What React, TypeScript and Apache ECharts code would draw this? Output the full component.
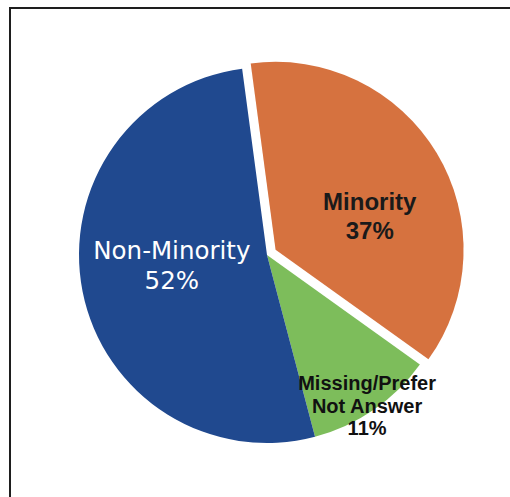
import React, { useEffect, useRef } from "react";
import * as echarts from "echarts";

const categories = ["Minority", "Missing/Prefer\nNot Answer", "Non-Minority"];
const values = [37, 11, 52];
const colors = ["#d6723f", "#7dbd5b", "#20498f"];

export default function App() {
  const ref = useRef<HTMLDivElement>(null);
  useEffect(() => {
    document.body.style.margin = "0";
    const chart = echarts.init(ref.current!, null, { renderer: "svg" });
    const labelStyles = [
      { color: "#1a1a1a", fontFamily: "Liberation Sans, Arial, sans-serif", fontWeight: "bold", fontSize: 24, lineHeight: 29 },
      { color: "#111111", fontFamily: "Liberation Sans, Arial, sans-serif", fontWeight: "bold", fontSize: 20, lineHeight: 22.5 },
      { color: "#ffffff", fontFamily: "DejaVu Sans, sans-serif", fontWeight: "normal", fontSize: 24.5, lineHeight: 30 },
    ];
    const shifts = [
      [11, 16],
      [45, 71],
      [0, -8],
    ];
    chart.setOption({
      animation: false,
      graphic: [
        {
          type: "rect",
          shape: { x: 10, y: 8, width: 560, height: 560 },
          style: { fill: "none", stroke: "#1e1e1e", lineWidth: 2 },
          silent: true,
        },
      ],
      series: [
        {
          type: "pie",
          center: [267, 255],
          radius: 188,
          startAngle: 97.6,
          clockwise: true,
          selectedMode: "single",
          selectedOffset: 10,
          avoidLabelOverlap: false,
          labelLine: { show: false },
          emphasis: { disabled: true },
          data: categories.map((name, i) => ({
            name,
            value: values[i],
            selected: i === 0,
            itemStyle: { color: colors[i], borderWidth: 0 },
            label: {
              show: true,
              position: "inside",
              formatter: (p: any) => `${p.name}\n${p.value}%`,
              align: "center",
              ...labelStyles[i],
            },
          })),
          labelLayout: (p: any) => ({ dx: shifts[p.dataIndex][0], dy: shifts[p.dataIndex][1] }),
        },
      ],
    });
    return () => chart.dispose();
  }, []);
  return <div ref={ref} style={{ width: 510, height: 497 }} />;
}
